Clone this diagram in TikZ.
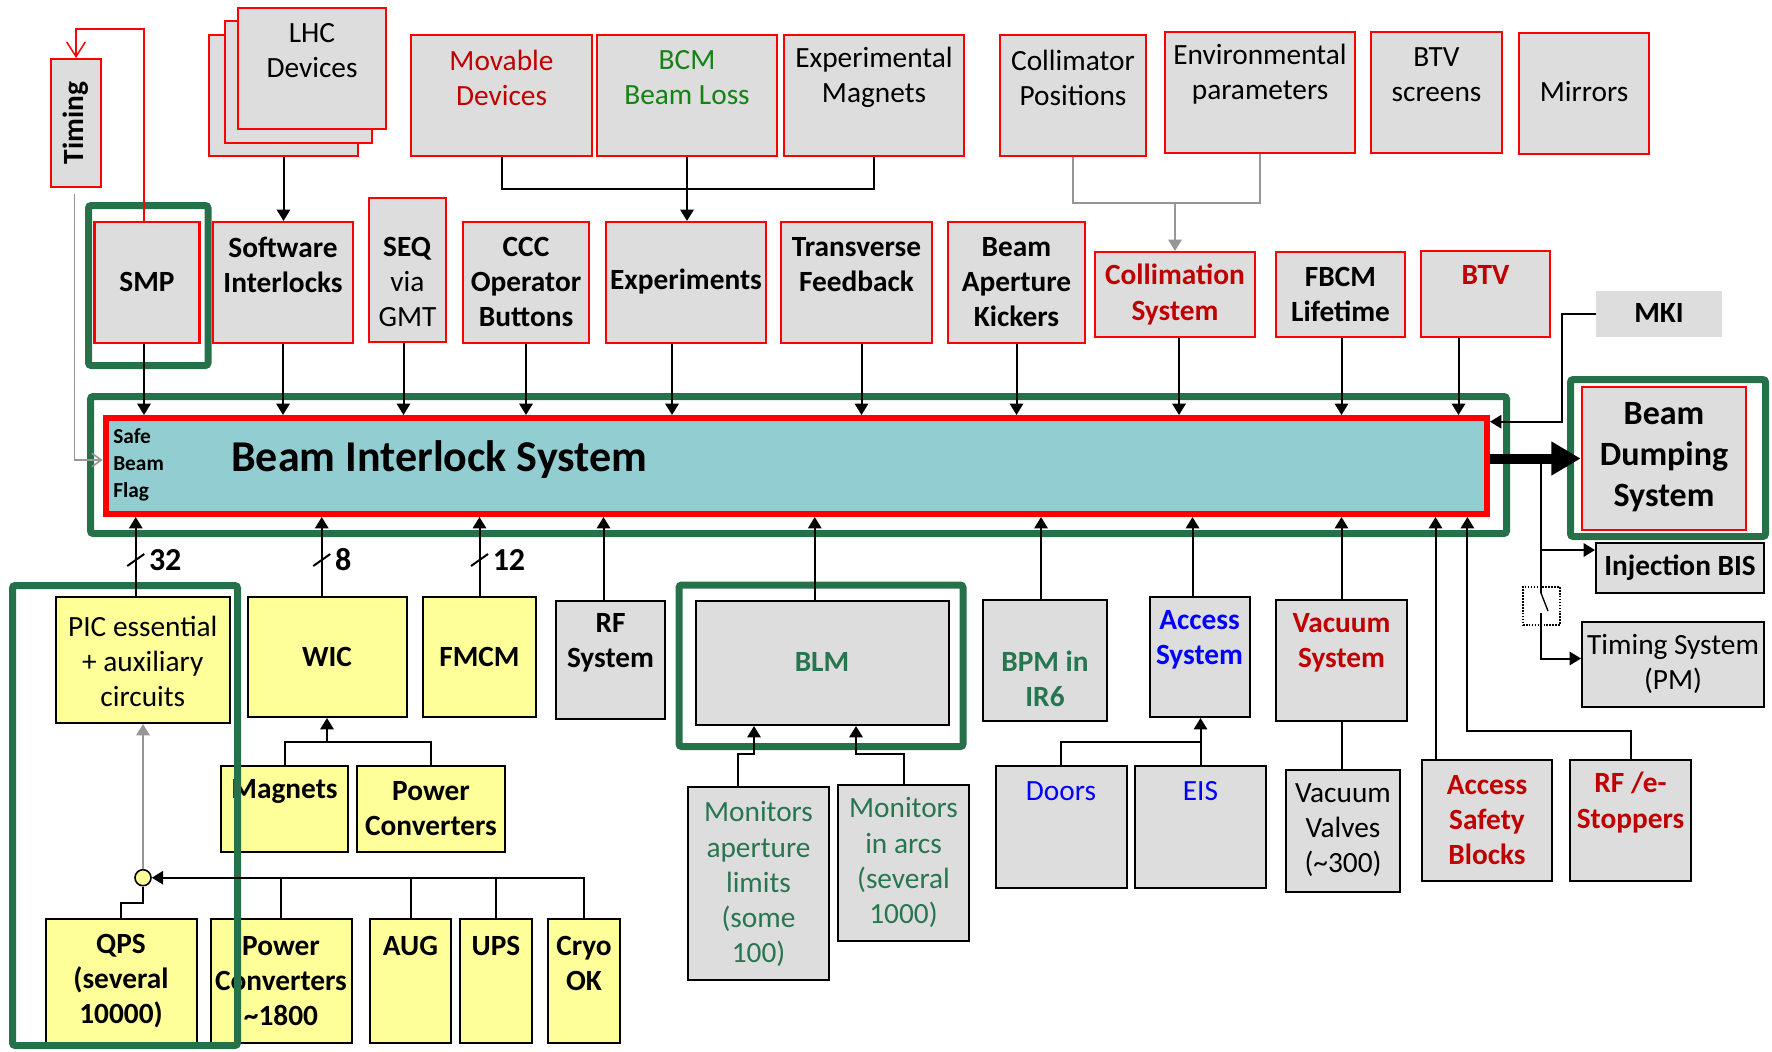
\documentclass[tikz,border=0pt]{standalone}
\usepackage{fontspec}
\setmainfont{Carlito}
\usetikzlibrary{arrows.meta,fit,calc}

\definecolor{boxgray}{RGB}{221,221,221}
\definecolor{boxred}{RGB}{255,0,0}
\definecolor{boxyellow}{RGB}{255,255,153}
\definecolor{bisteal}{RGB}{146,205,209}
\definecolor{framegreen}{RGB}{38,112,74}
\definecolor{txtred}{RGB}{192,0,0}
\definecolor{bcmgreen}{RGB}{20,130,20}
\definecolor{mongreen}{RGB}{40,118,80}
\definecolor{txtblue}{RGB}{0,0,255}
\definecolor{arrgray}{RGB}{150,150,150}

\newcommand\bxfont{\fontsize{22}{26.3}\selectfont}
\newcommand\bdsfont{\fontsize{25.5}{30.75}\selectfont}

% box with its label: style, name, corner, corner, label style, label position, label
\newcommand\tbox[7]{%
  \node[#1, fit={#3 #4}] (#2) {};
  \node[#5] (#2-t) at #6 {#7};
}

\begin{document}
\begin{tikzpicture}[x=0.75pt, y=-0.75pt,
  every node/.style={inner sep=0pt},
  rbox/.style={draw=boxred, fill=boxgray, line width=1.6pt},
  kbox/.style={draw=black, fill=boxgray, line width=1.5pt},
  ybox/.style={draw=black, fill=boxyellow, line width=1.5pt},
  gbox/.style={fill=boxgray},
  lbl/.style={align=center, font=\bxfont},
  blbl/.style={align=center, font=\bxfont\bfseries},
  cnt/.style={font=\fontsize{24}{28}\selectfont\bfseries},
  gframe/.style={draw=framegreen, line width=5.25pt, rounded corners=2pt},
  conn/.style={line width=1.5pt},
  arr/.style={conn, -{Triangle[length=8.5pt,width=10pt]}},
  gconn/.style={line width=1.5pt, draw=arrgray},
  garr/.style={gconn, -{Triangle[length=8.5pt,width=10pt]}},
  gopen/.style={line width=1.2pt, draw=arrgray, -{Straight Barb[length=7pt,width=10pt]}},
  redarr/.style={line width=1.1pt, draw=boxred, -{Straight Barb[length=11pt,width=14pt]}},
  thickarr/.style={line width=7.5pt, -{Triangle[length=22pt,width=24pt]}},
  jdot/.style={circle, draw=black, fill=boxyellow, line width=1.2pt, minimum size=12pt}
]
\useasboundingbox (0,0) rectangle (1772,1051);

% ---------- sources, top row ----------
\node[rbox, fit={(209,35) (358,156)}] (lhc3) {};
\node[rbox, fit={(225,21) (372,143)}] (lhc2) {};
\tbox{rbox}{lhc}{(238,8)}{(386,129)}{lbl}{(312,50.5)}{LHC\\Devices}
\tbox{rbox}{mov}{(411,35)}{(592,156)}{lbl,text=txtred}{(501.5,77.5)}{Movable\\Devices}
\tbox{rbox}{bcm}{(597,35)}{(777,156)}{lbl,text=bcmgreen}{(687,77.5)}{BCM\\Beam Loss}
\tbox{rbox}{expm}{(784,35)}{(964,156)}{lbl}{(874,77.5)}{Experimental\\Magnets}
\tbox{rbox}{colp}{(1000,35)}{(1146,156)}{lbl}{(1073,77.5)}{Collimator\\Positions}
\tbox{rbox}{env}{(1165,32)}{(1355,153)}{lbl}{(1260,74.5)}{Environmental\\parameters}
\tbox{rbox}{btvs}{(1371,32)}{(1502,153)}{lbl}{(1436.5,74.5)}{BTV\\screens}
\tbox{rbox}{mir}{(1519,33)}{(1649,154)}{lbl}{(1584,92)}{Mirrors}
\tbox{rbox}{tim}{(51,59)}{(101,187)}{blbl,rotate=90}{(76,123)}{Timing}

% ---------- user systems, second row ----------
\tbox{rbox}{smp}{(94.5,222)}{(199.5,343)}{blbl}{(147,282)}{SMP}
\tbox{rbox}{si}{(213,222)}{(353,343)}{blbl}{(283,264.5)}{Software\\Interlocks}
\tbox{rbox}{seq}{(369,198)}{(446,342)}{lbl}{(407.5,282)}{\textbf{SEQ}\\via\\GMT}
\tbox{rbox}{ccc}{(463,222)}{(589,343)}{blbl}{(526,282)}{CCC\\Operator\\Buttons}
\tbox{rbox}{exps}{(606,222)}{(766,343)}{blbl}{(686,282)}{Experiments}
\tbox{rbox}{tfb}{(781,222)}{(932,343)}{blbl}{(856.5,264.5)}{Transverse\\Feedback}
\tbox{rbox}{bak}{(948,222)}{(1085,343)}{blbl}{(1016.5,282)}{Beam\\Aperture\\Kickers}
\tbox{rbox}{colls}{(1095,252)}{(1255,337)}{blbl,text=txtred}{(1175,294.5)}{Collimation\\System}
\tbox{rbox}{fbcm}{(1276,252)}{(1405,337)}{blbl}{(1340.5,294.5)}{FBCM\\Lifetime}
\tbox{rbox}{btv}{(1421,251)}{(1550,337)}{blbl,text=txtred}{(1485.5,275)}{BTV}
\tbox{gbox}{mki}{(1596,291)}{(1722,337)}{blbl}{(1659,313)}{MKI}

% ---------- beam interlock system ----------
\node[draw=boxred, line width=4.5pt, fill=bisteal, fit={(105.6,418) (1487,514)}] (bis) {};
\node[anchor=west, align=left, font=\fontsize{16}{20.25}\selectfont\bfseries] (sbf) at (113,465) {Safe\\Beam\\Flag};
\node[anchor=west, font=\fontsize{33}{40}\selectfont\bfseries] (bis-t) at (231,460) {Beam Interlock System};

% ---------- beam dump and outputs ----------
\node[draw=boxred, fill=boxgray, line width=2pt, fit={(1582,387) (1746,530)}] (bds) {};
\node[align=center, font=\bdsfont\bfseries] (bds-t) at (1664,457.5) {Beam\\Dumping\\System};
\tbox{kbox}{inj}{(1596,543)}{(1764,593)}{blbl}{(1680,568)}{Injection BIS}
\tbox{kbox}{tsys}{(1582,622)}{(1764,707)}{lbl}{(1673,664)}{Timing System\\(PM)}

% ---------- user systems, lower row ----------
\tbox{ybox}{pic}{(55.5,597)}{(230,723)}{lbl}{(142.8,661)}{PIC essential\\+ auxiliary\\circuits}
\tbox{ybox}{wic}{(247.5,597)}{(407,717)}{blbl}{(327,657)}{WIC}
\tbox{ybox}{fmcm}{(423,597)}{(536,717)}{blbl}{(479.5,657)}{FMCM}
\tbox{kbox}{rf}{(556,601)}{(665,719)}{blbl}{(610.5,642.5)}{RF\\System}
\tbox{kbox}{blm}{(696,601)}{(948.5,725)}{blbl,text=mongreen}{(822,662)}{BLM}
\tbox{kbox}{bpm}{(982.6,600)}{(1107.4,721)}{blbl,text=mongreen}{(1045,679)}{BPM in\\IR6}
\tbox{kbox}{acc}{(1149.5,597)}{(1249.5,717)}{blbl,text=txtblue}{(1199.5,640)}{Access\\System}
\tbox{kbox}{vacs}{(1276,600)}{(1407,721)}{blbl,text=txtred}{(1341.5,642.5)}{Vacuum\\System}

% ---------- sub-sources ----------
\tbox{ybox}{mag}{(221,766)}{(348,852)}{blbl}{(284.5,791.7)}{Magnets}
\tbox{ybox}{pcu}{(357,766)}{(505,852)}{blbl}{(431,809)}{Power\\Converters}
\tbox{ybox}{qps}{(45.6,919)}{(196.5,1043)}{blbl}{(121,981.5)}{QPS\\(several\\10000)}
\tbox{ybox}{pcl}{(210.6,919)}{(351.5,1043)}{blbl}{(281,981.5)}{Power\\Converters\\\textasciitilde1800}
\tbox{ybox}{aug}{(370,919)}{(451,1043)}{blbl}{(410.5,945.7)}{AUG}
\tbox{ybox}{ups}{(460,919)}{(532,1043)}{blbl}{(496,945.7)}{UPS}
\tbox{ybox}{cryo}{(548,919)}{(620,1043)}{blbl}{(584,963.7)}{Cryo\\OK}
\tbox{kbox}{mon1}{(688,787)}{(829,980)}{lbl,text=mongreen}{(758.5,884)}{Monitors\\aperture\\limits\\(some\\100)}
\tbox{kbox}{mon2}{(838,785)}{(969,941)}{lbl,text=mongreen}{(903.5,862.5)}{Monitors\\in arcs\\(several\\1000)}
\tbox{kbox}{doors}{(995.6,766)}{(1126.5,887.7)}{lbl,text=txtblue}{(1061,790.7)}{Doors}
\tbox{kbox}{eis}{(1135,766)}{(1266,887.7)}{lbl,text=txtblue}{(1200.5,790.7)}{EIS}
\tbox{kbox}{vv}{(1286,770)}{(1400,892)}{lbl}{(1343,830.5)}{Vacuum\\Valves\\(\textasciitilde300)}
\tbox{kbox}{asb}{(1422,760)}{(1552,881)}{blbl,text=txtred}{(1487,820)}{Access\\Safety\\Blocks}
\tbox{kbox}{rfe}{(1570,760)}{(1691,881)}{blbl,text=txtred}{(1630.5,802.5)}{RF /e-\\Stoppers}

% ---------- critical-system frames ----------
\node[gframe, fit={(90.5,396.5) (1506.5,533.5)}] (bisframe) {};
\node[gframe, fit={(88.5,205.5) (208,365.5)}] (smpframe) {};
\node[gframe, fit={(1570.5,379.5) (1765.5,536.5)}] (bdsframe) {};
\node[gframe, fit={(12.5,585.5) (237.5,1045.5)}] (picframe) {};
\node[gframe, fit={(679,585) (963,746.5)}] (blmframe) {};

% ---------- inputs from above ----------
\foreach \n/\dx in {smp/-3, si/0, seq/-4, ccc/0, exps/-14, tfb/5, bak/0, colls/4, fbcm/1, btv/-27}{
  \coordinate (drop) at ($(\n.south)+(\dx,0)$);
  \draw[arr] (drop) -- (drop |- bis.north);
}
\draw[arr] (lhc3.south) -- (lhc3.south |- si.north);
\coordinate (tj) at (687,189);
\draw[conn] (mov.south) |- (expm.south |- tj) -- (expm.south);
\draw[arr] (bcm.south) -- (bcm.south |- exps.north);
\coordinate (cj) at (1175,203);
\draw[gconn] (colp.south) |- (cj);
\draw[gconn] (env.south) |- (cj);
\draw[garr] (cj) -- (colls.north);
\coordinate (rt) at (76,29);
\draw[redarr] ($(smp.north)+(-3,0)$) |- (rt) -- (tim.north);
\coordinate (mj) at (1561.6,421.7);
\draw[arr] (mki.west) -| (mj) -- (mj -| bis.east);

% ---------- safe beam flag input ----------
\coordinate (sbfin) at (74.6,194);
\draw[gopen] (sbfin) |- (bis.west |- 0,460);

% ---------- inputs from below ----------
\foreach \n/\dx in {pic/-7, wic/-5.5, fmcm/0, rf/-7, blm/-7.5, bpm/-4, acc/-7, vacs/0}{
  \coordinate (rise) at ($(\n.north)+(\dx,0)$);
  \draw[arr] (rise) -- (rise |- bis.south);
}
\foreach \n/\dx/\lab in {pic/-7/32, wic/-5.5/8, fmcm/0/12}{
  \coordinate (tick) at ($(\n.north)+(\dx,-36)$);
  \draw[conn] ($(tick)+(-8.5,6)$) -- ($(tick)+(8.5,-6)$);
  \node[cnt, anchor=west] (cnt-\n) at ($(tick)+(13,0)$) {\lab};
}
\coordinate (asbup) at ($(asb.north west)+(14.5,0)$);
\draw[arr] (asbup) -- (asbup |- bis.south);
\coordinate (rj) at (1467.4,731);
\draw[arr] (rfe.north) |- (rj) -- (rj |- bis.south);

% WIC sources
\coordinate (wj) at (327,741.7);
\draw[conn] (mag.north) |- (pcu.north |- wj) -- (pcu.north);
\draw[arr] (wj) -- (wj |- wic.south);

% PIC sources through the combining point
\node[jdot] (dot) at (143,877.7) {};
\draw[garr] (dot.north) -- (dot.north |- pic.south);
\draw[arr] (cryo.north) |- (dot.east);
\foreach \n in {pcl, aug, ups}{
  \draw[conn] (\n.north) -- (\n.north |- dot.east);
}
\draw[conn] (dot.south) -- ++(0,16) -| (qps.north);

% BLM monitors
\coordinate (m1) at ($(mon1.north)+(-20.5,0)$);
\coordinate (bj1) at (754,754);
\draw[arr] (m1) |- (bj1) -- (bj1 |- blm.south);
\coordinate (bj2) at (856,754);
\draw[arr] (mon2.north) |- (bj2) -- (bj2 |- blm.south);

% access sources
\coordinate (aj) at (1200.5,741.7);
\draw[conn] (doors.north) |- (aj);
\draw[arr] (eis.north) -- (eis.north |- acc.south);
\draw[conn] (vacs.south) -- (vacs.south |- vv.north);

% ---------- dump request and its branches ----------
\draw[thickarr] (bis.east |- bds.west) -- (bds.west);
\coordinate (br) at (1541,458.5);
\coordinate (sw1) at (1541,593);
\coordinate (sw2) at (1548,611);
\coordinate (sw3) at (1541,613);
\draw[conn] (br) -- (sw1);
\draw[line width=1pt] (sw1) -- (sw2);
\node[draw, densely dotted, line width=1.2pt, fit={(1523,587) (1560,625)}] (swbox) {};
\coordinate (injin) at ($(inj.north west)+(0,8)$);
\draw[arr] (br |- injin) -- (injin);
\draw[arr] (sw3) |- ($(tsys.west)+(0,-6)$);
\end{tikzpicture}
\end{document}
